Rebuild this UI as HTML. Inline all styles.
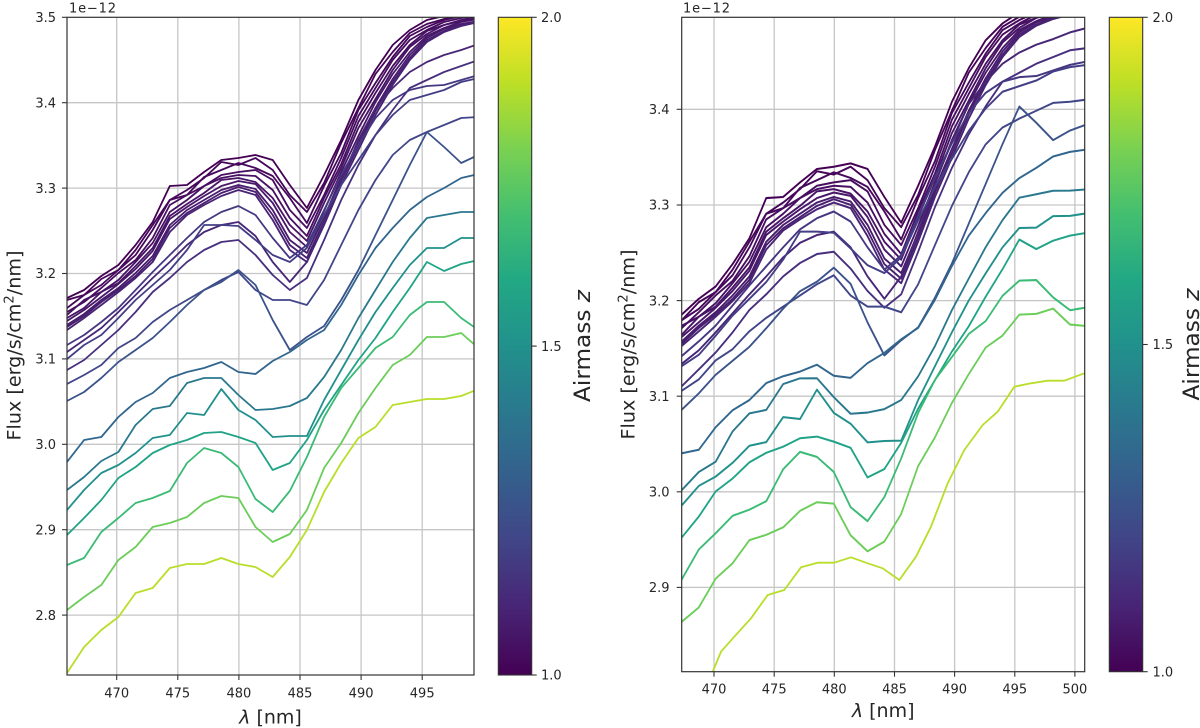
<!DOCTYPE html>
<html><head><meta charset="utf-8">
<style>
html,body{margin:0;padding:0;background:#fff;}
svg{display:block;}
text{font-family:"DejaVu Sans","Liberation Sans",sans-serif;fill:#262626;}
.tk{font-size:13px;}
</style></head>
<body>
<svg width="1200" height="728" viewBox="0 0 1200 728" xmlns="http://www.w3.org/2000/svg">
<defs>
<clipPath id="cl"><rect x="67" y="17.3" width="407" height="657.7"/></clipPath>
<clipPath id="cr"><rect x="681.7" y="17.3" width="403" height="654.4"/></clipPath>
<linearGradient id="vir" x1="0" y1="1" x2="0" y2="0">
<stop offset="0" stop-color="#440154"/><stop offset="0.1" stop-color="#482475"/><stop offset="0.2" stop-color="#414487"/><stop offset="0.3" stop-color="#355f8d"/><stop offset="0.4" stop-color="#2a788e"/><stop offset="0.5" stop-color="#21918c"/><stop offset="0.6" stop-color="#22a884"/><stop offset="0.7" stop-color="#44bf70"/><stop offset="0.8" stop-color="#7ad151"/><stop offset="0.9" stop-color="#bddf26"/><stop offset="1" stop-color="#fde725"/>
</linearGradient>
</defs>
<rect width="1200" height="728" fill="#fff"/>

<!-- LEFT grid -->
<g stroke="#c6c6c6" stroke-width="1.3">
<line x1="116.7" y1="17.3" x2="116.7" y2="675"/><line x1="177.8" y1="17.3" x2="177.8" y2="675"/><line x1="238.9" y1="17.3" x2="238.9" y2="675"/><line x1="300" y1="17.3" x2="300" y2="675"/><line x1="361.1" y1="17.3" x2="361.1" y2="675"/><line x1="422.2" y1="17.3" x2="422.2" y2="675"/>
<line x1="67" y1="615.1" x2="474" y2="615.1"/><line x1="67" y1="529.7" x2="474" y2="529.7"/><line x1="67" y1="444.3" x2="474" y2="444.3"/><line x1="67" y1="358.9" x2="474" y2="358.9"/><line x1="67" y1="273.5" x2="474" y2="273.5"/><line x1="67" y1="188.1" x2="474" y2="188.1"/><line x1="67" y1="102.7" x2="474" y2="102.7"/>
</g>
<!-- RIGHT grid -->
<g stroke="#c6c6c6" stroke-width="1.3">
<line x1="714" y1="17.3" x2="714" y2="671.7"/><line x1="774.2" y1="17.3" x2="774.2" y2="671.7"/><line x1="834.3" y1="17.3" x2="834.3" y2="671.7"/><line x1="894.5" y1="17.3" x2="894.5" y2="671.7"/><line x1="954.6" y1="17.3" x2="954.6" y2="671.7"/><line x1="1014.8" y1="17.3" x2="1014.8" y2="671.7"/><line x1="1074.9" y1="17.3" x2="1074.9" y2="671.7"/>
<line x1="681.7" y1="109.3" x2="1084.7" y2="109.3"/><line x1="681.7" y1="205" x2="1084.7" y2="205"/><line x1="681.7" y1="300.6" x2="1084.7" y2="300.6"/><line x1="681.7" y1="396.2" x2="1084.7" y2="396.2"/><line x1="681.7" y1="491.8" x2="1084.7" y2="491.8"/><line x1="681.7" y1="587.4" x2="1084.7" y2="587.4"/>
</g>

<!-- LEFT curves -->
<g clip-path="url(#cl)" fill="none" stroke-width="1.8" stroke-linejoin="round">
<polyline id="P1" fill="none" stroke-width="1.8" stroke="#440154" points="67,298 84.1,290 101.3,276 118.4,265 135.6,245 152.7,222 169.8,186 187,185 204.1,172 221.3,160 238.4,158 255.5,155 272.7,160 289.8,185 306.9,208 324.1,175 341.2,140 358.4,100 375.5,70 392.7,45 409.8,30 426.9,20 444.1,16 461.2,12 478.4,13 495.5,14"/>
<polyline id="P2" fill="none" stroke-width="1.8" stroke="#450559" points="67,300 84.1,295 101.3,279 118.4,270 135.6,250 152.7,225 169.8,200 187,190 204.1,178 221.3,162 238.4,165 255.5,158 272.7,170 289.8,195 306.9,212 324.1,183 341.2,143 358.4,108 375.5,74 392.7,52 409.8,33 426.9,24 444.1,19 461.2,15 478.4,14 495.5,15"/>
<polyline id="P3" fill="none" stroke-width="1.8" stroke="#46085c" points="67,308 84.1,295 101.3,285 118.4,270 135.6,255 152.7,230 169.8,200 187,195 204.1,177 221.3,170 238.4,163 255.5,168 272.7,176 289.8,198 306.9,223 324.1,186 341.2,153 358.4,110 375.5,83 392.7,57 409.8,36 426.9,27 444.1,20 461.2,16 478.4,15 495.5,16"/>
<polyline id="P4" fill="none" stroke-width="1.8" stroke="#470d60" points="67,312 84.1,302 101.3,288 118.4,273 135.6,260 152.7,238 169.8,205 187,195 204.1,186 221.3,175 238.4,172 255.5,170 272.7,180 289.8,210 306.9,228 324.1,195 341.2,158 358.4,116 375.5,88 392.7,60 409.8,40 426.9,30 444.1,22 461.2,18 478.4,17 495.5,17"/>
<polyline id="P5" fill="none" stroke-width="1.8" stroke="#471063" points="67,315 84.1,300 101.3,292 118.4,280 135.6,262 152.7,243 169.8,212 187,200 204.1,186 221.3,178 238.4,175 255.5,176 272.7,190 289.8,218 306.9,236 324.1,198 341.2,164 358.4,122 375.5,93 392.7,66 409.8,45 426.9,31 444.1,25 461.2,20 478.4,18 495.5,17"/>
<polyline id="P6" fill="none" stroke-width="1.8" stroke="#481467" points="67,318 84.1,308 101.3,292 118.4,283 135.6,266 152.7,248 169.8,216 187,204 204.1,193 221.3,180 238.4,178 255.5,182 272.7,198 289.8,225 306.9,241 324.1,203 341.2,168 358.4,128 375.5,99 392.7,70 409.8,47 426.9,34 444.1,25 461.2,21 478.4,19 495.5,18"/>
<polyline id="P7" fill="none" stroke-width="1.8" stroke="#481769" points="67,321 84.1,310 101.3,297 118.4,284 135.6,269 152.7,251 169.8,219 187,207 204.1,196 221.3,186 238.4,181 255.5,184 272.7,203 289.8,232 306.9,247 324.1,211 341.2,172 358.4,136 375.5,102 392.7,74 409.8,52 426.9,36 444.1,28 461.2,22 478.4,19 495.5,18"/>
<polyline id="P8" fill="none" stroke-width="1.8" stroke="#481b6d" points="67,325 84.1,314 101.3,300 118.4,288 135.6,273 152.7,256 169.8,225 187,210 204.1,200 221.3,190 238.4,185 255.5,189 272.7,210 289.8,240 306.9,253 324.1,217 341.2,178 358.4,142 375.5,108 392.7,79 409.8,55 426.9,38 444.1,29 461.2,24 478.4,21 495.5,19"/>
<polyline id="P9" fill="none" stroke-width="1.8" stroke="#481f70" points="67,327 84.1,316 101.3,302 118.4,290 135.6,276 152.7,259 169.8,228 187,213 204.1,203 221.3,193 238.4,187 255.5,192 272.7,215 289.8,245 306.9,258 324.1,221 341.2,181 358.4,146 375.5,111 392.7,82 409.8,58 426.9,40 444.1,31 461.2,25 478.4,21 495.5,19"/>
<polyline id="P10" fill="none" stroke-width="1.8" stroke="#482374" points="67,330 84.1,318 101.3,305 118.4,292 135.6,278 152.7,262 169.8,232 187,215 204.1,205 221.3,196 238.4,190 255.5,195 272.7,220 289.8,250 306.9,262 324.1,225 341.2,185 358.4,150 375.5,115 392.7,85 409.8,60 426.9,42 444.1,32 461.2,26 478.4,22 495.5,20"/>
<polyline id="L" fill="none" stroke-width="1.8" stroke="#482677" points="67,352 84.1,340 101.3,328 118.4,312 135.6,295 152.7,278 169.8,262 187,245 204.1,232 221.3,225 238.4,222 255.5,236 272.7,262 289.8,282 306.9,262 324.1,222 341.2,180 358.4,140 375.5,108 392.7,88 409.8,72 426.9,62 444.1,55 461.2,50 478.4,44 495.5,40"/>
<polyline id="K" fill="none" stroke-width="1.8" stroke="#472f7d" points="67,370 84.1,360 101.3,345 118.4,330 135.6,312 152.7,292 169.8,278 187,262 204.1,250 221.3,242 238.4,240 255.5,255 272.7,275 289.8,290 306.9,278 324.1,240 341.2,200 358.4,165 375.5,135 392.7,110 409.8,88 426.9,80 444.1,72 461.2,66 478.4,60 495.5,58"/>
<polyline id="M" fill="none" stroke-width="1.8" stroke="#453781" points="67,345 84.1,335 101.3,322 118.4,308 135.6,290 152.7,272 169.8,255 187,238 204.1,222 221.3,212 238.4,206 255.5,215 272.7,238 289.8,258 306.9,245 324.1,210 341.2,175 358.4,145 375.5,118 392.7,100 409.8,90 426.9,86 444.1,85 461.2,80 478.4,75 495.5,72"/>
<polyline id="J" fill="none" stroke-width="1.8" stroke="#433e85" points="67,359 84.1,345 101.3,335 118.4,318 135.6,300 152.7,285 169.8,270 187,250 204.1,225 221.3,225 238.4,226 255.5,240 272.7,255 289.8,262 306.9,248 324.1,215 341.2,185 358.4,160 375.5,135 392.7,115 409.8,100 426.9,95 444.1,90 461.2,82 478.4,78 495.5,76"/>
<polyline id="I" fill="none" stroke-width="1.8" stroke="#404688" points="67,384 84.1,375 101.3,365 118.4,348 135.6,338 152.7,322 169.8,310 187,300 204.1,290 221.3,280 238.4,272 255.5,290 272.7,300 289.8,300 306.9,305 324.1,280 341.2,245 358.4,210 375.5,180 392.7,155 409.8,140 426.9,132 444.1,125 461.2,118 478.4,117 495.5,115"/>
<polyline id="H" fill="none" stroke-width="1.8" stroke="#3b528b" points="67,401 84.1,392 101.3,378 118.4,362 135.6,350 152.7,338 169.8,322 187,305 204.1,290 221.3,282 238.4,270 255.5,285 272.7,320 289.8,350 306.9,337 324.1,326 341.2,300 358.4,270 375.5,235 392.7,200 409.8,165 426.9,132 444.1,147 461.2,163 478.4,155 495.5,150"/>
<polyline id="G" fill="none" stroke-width="1.8" stroke="#31668e" points="67,462 84.1,440 101.3,437 118.4,417 135.6,402 152.7,393 169.8,378 187,372 204.1,368 221.3,362 238.4,372 255.5,374 272.7,361 289.8,352 306.9,340 324.1,330 341.2,305 358.4,275 375.5,248 392.7,228 409.8,210 426.9,197 444.1,188 461.2,178 478.4,174 495.5,172"/>
<polyline id="F" fill="none" stroke-width="1.8" stroke="#2a788e" points="67,490 84.1,477 101.3,461 118.4,452 135.6,425 152.7,409 169.8,406 187,383 204.1,378 221.3,378 238.4,395 255.5,410 272.7,409 289.8,406 306.9,398 324.1,377 341.2,350 358.4,318 375.5,290 392.7,262 409.8,238 426.9,218 444.1,215 461.2,212 478.4,212 495.5,211"/>
<polyline id="E" fill="none" stroke-width="1.8" stroke="#21908d" points="67,510 84.1,490 101.3,473 118.4,465 135.6,453 152.7,438 169.8,435 187,413 204.1,415 221.3,389 238.4,410 255.5,420 272.7,437 289.8,436 306.9,436 324.1,400 341.2,370 358.4,340 375.5,312 392.7,288 409.8,265 426.9,248 444.1,248 461.2,238 478.4,238 495.5,236"/>
<polyline id="D" fill="none" stroke-width="1.8" stroke="#20a386" points="67,535 84.1,518 101.3,500 118.4,478 135.6,467 152.7,453 169.8,445 187,440 204.1,433 221.3,432 238.4,437 255.5,443 272.7,470 289.8,463 306.9,440 324.1,410 341.2,385 358.4,360 375.5,338 392.7,312 409.8,288 426.9,262 444.1,271 461.2,264 478.4,260 495.5,258"/>
<polyline id="C" fill="none" stroke-width="1.8" stroke="#3bbb75" points="67,565 84.1,558 101.3,532 118.4,518 135.6,503 152.7,498 169.8,491 187,463 204.1,448 221.3,453 238.4,467 255.5,499 272.7,512 289.8,491 306.9,457 324.1,417 341.2,388 358.4,368 375.5,348 392.7,337 409.8,315 426.9,302 444.1,302 461.2,318 478.4,330 495.5,328"/>
<polyline id="B" fill="none" stroke-width="1.8" stroke="#6ccd5a" points="67,610 84.1,597 101.3,585 118.4,560 135.6,547 152.7,527 169.8,523 187,517 204.1,503 221.3,496 238.4,498 255.5,527 272.7,542 289.8,534 306.9,510 324.1,468 341.2,443 358.4,413 375.5,388 392.7,365 409.8,355 426.9,337 444.1,337 461.2,333 478.4,348 495.5,350"/>
<polyline id="A" fill="none" stroke-width="1.8" stroke="#b8de29" points="67,673 84.1,647 101.3,630 118.4,617 135.6,593 152.7,588 169.8,568 187,564 204.1,564 221.3,558 238.4,564 255.5,567 272.7,577 289.8,557 306.9,530 324.1,492 341.2,463 358.4,438 375.5,427 392.7,405 409.8,402 426.9,399 444.1,399 461.2,396 478.4,389 495.5,385"/>
</g>

<!-- RIGHT curves -->
<g clip-path="url(#cr)" fill="none" stroke-width="1.8" stroke-linejoin="round">
<g transform="matrix(0.98445 0 0 1.11944 599.08 -5.67)">
<g transform="translate(0,-4)">
<use href="#P1"/><use href="#P2"/><use href="#P3"/><use href="#P4"/><use href="#P5"/><use href="#P6"/><use href="#P7"/><use href="#P8"/><use href="#P9"/><use href="#P10"/>
</g>
<use href="#L" transform="translate(0,-10)"/>
<use href="#K" transform="translate(0,-10)"/>
<use href="#M" transform="translate(0,-12)"/>
<use href="#J" transform="translate(0,-13)"/>
<use href="#I" transform="translate(0,-21)"/>
<use href="#H" transform="matrix(1 -0.0312 0 1 0 -18.4)"/>
<use href="#G" transform="matrix(1 -0.0083 0 1 0 -29.3)"/>
<use href="#F" transform="matrix(1 -0.0062 0 1 0 -33.7)"/>
<use href="#E" transform="matrix(1 -0.0166 0 1 0 -32.2)"/>
<use href="#D" transform="matrix(1 -0.0291 0 1 0 -30.5)"/>
<use href="#C" transform="matrix(1 -0.0312 0 1 0 -32.9)"/>
<use href="#B" transform="matrix(1 -0.0416 0 1 0 -33.1)"/>
</g>
<polyline fill="none" stroke-width="1.8" stroke="#b8de29" points="700,690 712.7,671.7 721,651.7 734.3,636.7 751,618.3 767.7,595 784.3,590 801,567.3 817.7,562.7 834.3,562.7 851,557.3 867.7,563.3 882.7,568.3 899.3,580 916,556.7 931,526.7 947.7,483.3 964.3,450 982.7,425 997.7,411.7 1014.3,386.7 1031,383.3 1047.7,380.7 1064.3,380.7 1084.3,373.3 1095,370"/>
</g>

<!-- Spines -->
<rect x="67" y="17.3" width="407" height="657.7" fill="none" stroke="#333" stroke-width="1.2"/>
<rect x="681.7" y="17.3" width="403" height="654.4" fill="none" stroke="#333" stroke-width="1.2"/>

<!-- LEFT ticks -->
<g stroke="#333" stroke-width="1.1">
<line x1="62" y1="17.3" x2="67" y2="17.3"/><line x1="62" y1="102.7" x2="67" y2="102.7"/><line x1="62" y1="188.1" x2="67" y2="188.1"/><line x1="62" y1="273.5" x2="67" y2="273.5"/><line x1="62" y1="358.9" x2="67" y2="358.9"/><line x1="62" y1="444.3" x2="67" y2="444.3"/><line x1="62" y1="529.7" x2="67" y2="529.7"/><line x1="62" y1="615.1" x2="67" y2="615.1"/>
<line x1="116.7" y1="675" x2="116.7" y2="680"/><line x1="177.8" y1="675" x2="177.8" y2="680"/><line x1="238.9" y1="675" x2="238.9" y2="680"/><line x1="300" y1="675" x2="300" y2="680"/><line x1="361.1" y1="675" x2="361.1" y2="680"/><line x1="422.2" y1="675" x2="422.2" y2="680"/>
</g>
<g class="tk" text-anchor="end">
<text x="56" y="22">3.5</text><text x="56" y="107.4">3.4</text><text x="56" y="192.8">3.3</text><text x="56" y="278.2">3.2</text><text x="56" y="363.6">3.1</text><text x="56" y="449">3.0</text><text x="56" y="534.4">2.9</text><text x="56" y="619.8">2.8</text>
</g>
<g class="tk" text-anchor="middle">
<text x="116.7" y="697.3">470</text><text x="177.8" y="697.3">475</text><text x="238.9" y="697.3">480</text><text x="300" y="697.3">485</text><text x="361.1" y="697.3">490</text><text x="422.2" y="697.3">495</text>
</g>
<text class="tk" x="69" y="12.3" textLength="47">1e−12</text>
<text x="270.5" y="723.5" text-anchor="middle" font-size="19"><tspan font-style="italic">λ</tspan> [nm]</text>
<text transform="translate(20.5,345.5) rotate(-90)" text-anchor="middle" font-size="19" textLength="190" lengthAdjust="spacingAndGlyphs">Flux [erg/s/cm<tspan font-size="13" dy="-7">2</tspan><tspan dy="7">/nm]</tspan></text>

<!-- RIGHT ticks -->
<g stroke="#333" stroke-width="1.1">
<line x1="676.7" y1="109.3" x2="681.7" y2="109.3"/><line x1="676.7" y1="205" x2="681.7" y2="205"/><line x1="676.7" y1="300.6" x2="681.7" y2="300.6"/><line x1="676.7" y1="396.2" x2="681.7" y2="396.2"/><line x1="676.7" y1="491.8" x2="681.7" y2="491.8"/><line x1="676.7" y1="587.4" x2="681.7" y2="587.4"/>
<line x1="714" y1="671.7" x2="714" y2="676.7"/><line x1="774.2" y1="671.7" x2="774.2" y2="676.7"/><line x1="834.3" y1="671.7" x2="834.3" y2="676.7"/><line x1="894.5" y1="671.7" x2="894.5" y2="676.7"/><line x1="954.6" y1="671.7" x2="954.6" y2="676.7"/><line x1="1014.8" y1="671.7" x2="1014.8" y2="676.7"/><line x1="1074.9" y1="671.7" x2="1074.9" y2="676.7"/>
</g>
<g class="tk" text-anchor="end">
<text x="669.5" y="114">3.4</text><text x="669.5" y="209.7">3.3</text><text x="669.5" y="305.3">3.2</text><text x="669.5" y="400.9">3.1</text><text x="669.5" y="496.5">3.0</text><text x="669.5" y="592.1">2.9</text>
</g>
<g class="tk" text-anchor="middle">
<text x="714" y="693.3">470</text><text x="774.2" y="693.3">475</text><text x="834.3" y="693.3">480</text><text x="894.5" y="693.3">485</text><text x="954.6" y="693.3">490</text><text x="1014.8" y="693.3">495</text><text x="1074.9" y="693.3">500</text>
</g>
<text class="tk" x="683" y="12.3" textLength="47">1e−12</text>
<text x="883.2" y="717" text-anchor="middle" font-size="19"><tspan font-style="italic">λ</tspan> [nm]</text>
<text transform="translate(634.5,344.5) rotate(-90)" text-anchor="middle" font-size="19" textLength="190" lengthAdjust="spacingAndGlyphs">Flux [erg/s/cm<tspan font-size="13" dy="-7">2</tspan><tspan dy="7">/nm]</tspan></text>

<!-- LEFT colorbar -->
<rect x="498.3" y="17.3" width="33.4" height="657.7" fill="url(#vir)" stroke="#333" stroke-width="1.1"/>
<g stroke="#333" stroke-width="1.1">
<line x1="531.7" y1="17.3" x2="536.7" y2="17.3"/><line x1="531.7" y1="346.1" x2="536.7" y2="346.1"/><line x1="531.7" y1="675" x2="536.7" y2="675"/>
</g>
<g class="tk">
<text x="541" y="22">2.0</text><text x="541" y="350.8">1.5</text><text x="541" y="679.7">1.0</text>
</g>
<text transform="translate(590,346) rotate(-90)" text-anchor="middle" font-size="22" textLength="112" lengthAdjust="spacingAndGlyphs">Airmass <tspan font-style="italic">z</tspan></text>

<!-- RIGHT colorbar -->
<rect x="1109.3" y="17.3" width="33.4" height="654.4" fill="url(#vir)" stroke="#333" stroke-width="1.1"/>
<g stroke="#333" stroke-width="1.1">
<line x1="1142.7" y1="17.3" x2="1147.7" y2="17.3"/><line x1="1142.7" y1="344.5" x2="1147.7" y2="344.5"/><line x1="1142.7" y1="671.7" x2="1147.7" y2="671.7"/>
</g>
<g class="tk">
<text x="1152.5" y="22">2.0</text><text x="1152.5" y="349.2">1.5</text><text x="1152.5" y="676.4">1.0</text>
</g>
<text transform="translate(1199,344.5) rotate(-90)" text-anchor="middle" font-size="22" textLength="112" lengthAdjust="spacingAndGlyphs">Airmass <tspan font-style="italic">z</tspan></text>
</svg>
</body></html>
